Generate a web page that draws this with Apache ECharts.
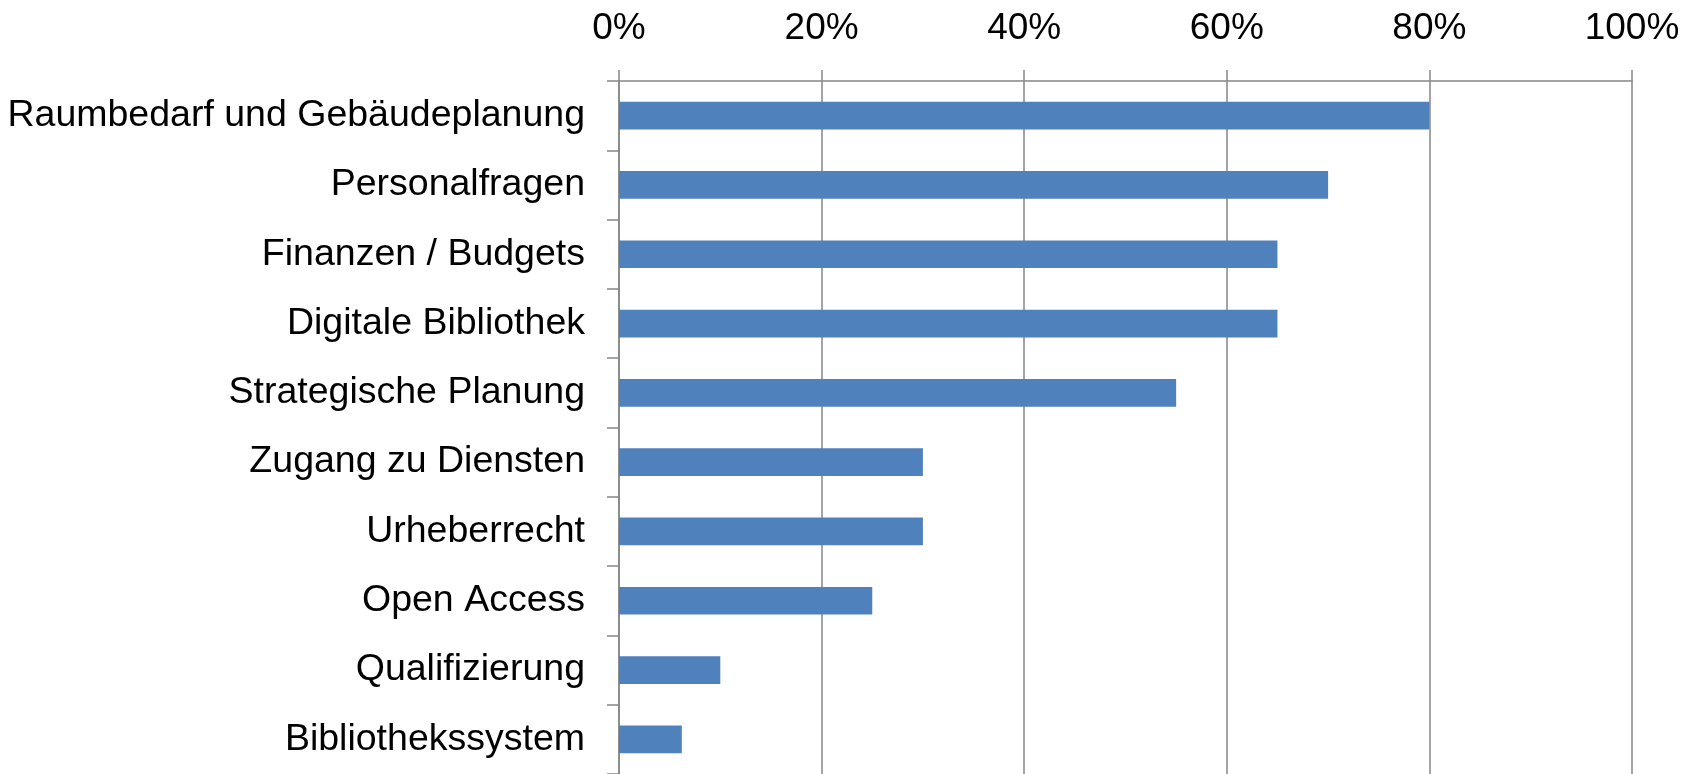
<!DOCTYPE html>
<html>
<head>
<meta charset="utf-8">
<script src="https://cdn.jsdelivr.net/npm/echarts@6/dist/echarts.min.js"></script>
<style>
html,body{margin:0;padding:0;background:#fff;}
#chart{width:1696px;height:774px;}
</style>
</head>
<body>
<div id="chart"></div>
<script>
const categories = [
  "Raumbedarf und Gebäudeplanung",
  "Personalfragen",
  "Finanzen / Budgets",
  "Digitale Bibliothek",
  "Strategische Planung",
  "Zugang zu Diensten",
  "Urheberrecht",
  "Open Access",
  "Qualifizierung",
  "Bibliothekssystem"
];
const values = [80, 70, 65, 65, 55, 30, 30, 25, 10, 6.2];
const axisMin = 0;
const axisMax = 100;
const axisStep = 20;

const chart = echarts.init(document.getElementById('chart'), null, {renderer: 'canvas'});
const font = "'Liberation Sans', Arial, sans-serif";
const gray = '#868686';
chart.setOption({
  animation: false,
  backgroundColor: '#ffffff',
  grid: {left: 619, right: 64, top: 81, bottom: -4, containLabel: false},
  xAxis: {
    type: 'value',
    position: 'top',
    min: axisMin,
    max: axisMax,
    interval: axisStep,
    axisLine: {show: true, lineStyle: {color: gray, width: 1.5}},
    axisTick: {show: true, length: 11, lineStyle: {color: gray, width: 1.5}},
    splitLine: {show: true, lineStyle: {color: gray, width: 1.5}},
    axisLabel: {
      formatter: v => v + '%',
      color: '#000',
      fontFamily: font,
      fontSize: 37,
      margin: 34
    }
  },
  yAxis: {
    type: 'category',
    inverse: true,
    data: categories,
    axisLine: {show: true, lineStyle: {color: gray, width: 1.5}},
    axisTick: {show: true, length: 12, lineStyle: {color: gray, width: 1.5}},
    splitLine: {show: false},
    axisLabel: {
      color: '#000',
      fontFamily: font,
      fontSize: 37.5,
      margin: 34
    }
  },
  series: [{
    type: 'bar',
    data: values,
    barCategoryGap: '60%',
    itemStyle: {color: '#4F81BD'}
  }]
});
</script>
</body>
</html>
